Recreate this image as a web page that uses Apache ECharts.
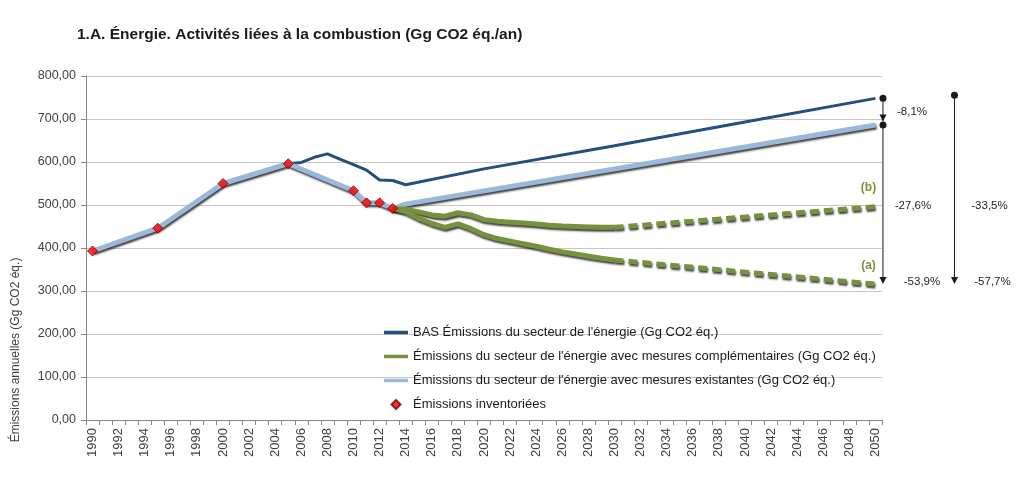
<!DOCTYPE html>
<html>
<head>
<meta charset="utf-8">
<script src="https://cdn.jsdelivr.net/npm/echarts@6/dist/echarts.min.js"></script>
<style>
  html, body { margin: 0; padding: 0; background: #ffffff; }
  #chart { width: 1016px; height: 478px; }
</style>
</head>
<body>
<div id="chart"></div>
<script>
// Years on the category axis
const firstYear = 1990;
const lastYear = 2050;
const years = [];
for (let y = firstYear; y <= lastYear; y++) years.push(String(y));

// Inventoried emissions (Gg CO2 eq.)
const inventoryYears = [1990, 1995, 2000, 2005, 2010, 2011, 2012, 2013];
const inventoryValues = [393, 446, 550, 596, 533, 505, 505, 492];

// BAS scenario
const basYears = [1990, 1995, 2000, 2005, 2006, 2007, 2008, 2009, 2010, 2011, 2012, 2013, 2014, 2020, 2030, 2040, 2050];
const basValues = [393, 446, 550, 596, 599, 611, 619, 606, 594, 581, 558, 557, 547, 584, 638, 693, 748];

// Existing measures
const existingYears = [1990, 1995, 2000, 2005, 2010, 2011, 2012, 2013, 2014, 2050];
const existingValues = [393, 446, 550, 596, 533, 505, 505, 492, 502, 686];

// Complementary measures, variant (a) and (b), modelled up to 2030
const complementaryYears = [2013, 2014, 2015, 2016, 2017, 2018, 2019, 2020, 2021, 2022, 2023, 2024, 2025, 2026, 2027, 2028, 2029, 2030];
const complementaryA = [492, 484, 469, 457, 448, 456, 445, 431, 422, 416, 410, 404, 397, 391, 386, 381, 376, 372];
const complementaryB = [492, 490, 484, 477, 474, 482, 477, 466, 462, 460, 458, 456, 453, 451, 450, 449, 448, 448];

// Complementary measures, trend 2030-2050
const trendYears = [2030, 2050];
const trendA = [372, 316];
const trendB = [448, 496];

// Percentage labels drawn at the right margin
const gapLabels = ['-8,1%', '-27,6%', '-33,5%', '-53,9%', '-57,7%'];

const NAME_BAS = "BAS Émissions du secteur de l'énergie (Gg CO2 éq.)";
const NAME_COMP = "Émissions du secteur de l'énergie avec mesures complémentaires (Gg CO2 éq.)";
const NAME_EXIST = "Émissions du secteur de l'énergie avec mesures existantes (Gg CO2 éq.)";
const NAME_INV = "Émissions inventoriées";

const FONT = "'Liberation Sans', Arial, sans-serif";
const GREEN = '#76923C';
const LIGHT = '#9BB7D9';
const DARK = '#23507F';

// Legend icons: a flat bar for lines, a diamond for the inventory points
const ICON_LINE = 'path://M0,0 L48,0 L48,7 L0,7 Z';
const ICON_DIAMOND = 'path://M5,0 L10,5 L5,10 L0,5 Z';

function toSeries(ys, vs) {
  const out = years.map(() => null);
  ys.forEach((y, i) => { out[y - firstYear] = vs[i]; });
  return out;
}

const shadow = { shadowColor: 'rgba(0,0,0,0.75)', shadowBlur: 2, shadowOffsetX: 1, shadowOffsetY: 2 };

const chart = echarts.init(document.getElementById('chart'), null, { renderer: 'canvas' });

chart.setOption({
  animation: false,
  backgroundColor: '#ffffff',
  title: {
    text: '1.A. Énergie. Activités liées à la combustion (Gg CO2 éq./an)',
    left: 77, top: 27, padding: 0,
    textStyle: { fontFamily: FONT, fontSize: 15.5, fontWeight: 'bold', color: '#1a1a1a' }
  },
  grid: { left: 86, right: 134, top: 76, bottom: 58 },
  legend: {
    orient: 'vertical', left: 384, top: 326, padding: 0,
    itemWidth: 24, itemHeight: 9, itemGap: 11,
    selectedMode: false, symbolKeepAspect: true,
    data: [
      { name: NAME_BAS, icon: ICON_LINE },
      { name: NAME_COMP, icon: ICON_LINE },
      { name: NAME_EXIST, icon: ICON_LINE },
      { name: NAME_INV, icon: ICON_DIAMOND }
    ],
    textStyle: { fontFamily: FONT, fontSize: 13, color: '#1a1a1a' }
  },
  xAxis: {
    type: 'category', data: years, boundaryGap: true,
    axisLine: { lineStyle: { color: '#868686' } },
    axisTick: { show: true, interval: 0, length: 5, alignWithLabel: false, lineStyle: { color: '#868686' } },
    axisLabel: { interval: 1, rotate: 90, margin: 8, fontFamily: FONT, fontSize: 13, color: '#404040' },
    splitLine: { show: false }
  },
  yAxis: {
    type: 'value', min: 0, max: 800, interval: 100,
    axisLine: { show: true, lineStyle: { color: '#868686' } },
    axisTick: { show: true, length: 5, lineStyle: { color: '#868686' } },
    axisLabel: {
      margin: 10, fontFamily: FONT, fontSize: 12.5, color: '#404040',
      formatter: v => v.toFixed(2).replace('.', ',')
    },
    splitLine: { lineStyle: { color: '#c6c6c6', width: 1 } }
  },
  series: [
    {
      name: NAME_BAS, type: 'line', data: toSeries(basYears, basValues), connectNulls: true,
      symbol: 'none', z: 2,
      lineStyle: { color: DARK, width: 3 }, itemStyle: { color: DARK }
    },
    {
      name: NAME_EXIST, type: 'line', data: toSeries(existingYears, existingValues), connectNulls: true,
      symbol: 'none', z: 3,
      lineStyle: Object.assign({ color: LIGHT, width: 5 }, shadow), itemStyle: { color: LIGHT }
    },
    {
      name: NAME_COMP, type: 'line', data: toSeries(complementaryYears, complementaryB),
      symbol: 'none', z: 4,
      lineStyle: Object.assign({ color: GREEN, width: 5 }, shadow), itemStyle: { color: GREEN }
    },
    {
      name: NAME_COMP, type: 'line', data: toSeries(complementaryYears, complementaryA),
      symbol: 'none', z: 4,
      lineStyle: Object.assign({ color: GREEN, width: 5 }, shadow), itemStyle: { color: GREEN }
    },
    {
      name: NAME_COMP, type: 'line', data: toSeries(trendYears, trendB), connectNulls: true,
      symbol: 'none', z: 4,
      lineStyle: Object.assign({ color: GREEN, width: 5, type: [9, 5] }, shadow), itemStyle: { color: GREEN }
    },
    {
      name: NAME_COMP, type: 'line', data: toSeries(trendYears, trendA), connectNulls: true,
      symbol: 'none', z: 4,
      lineStyle: Object.assign({ color: GREEN, width: 5, type: [9, 5] }, shadow), itemStyle: { color: GREEN }
    },
    {
      name: NAME_INV, type: 'scatter', data: toSeries(inventoryYears, inventoryValues),
      symbol: 'diamond', symbolSize: 10, z: 6,
      itemStyle: { color: '#FF0000', borderColor: '#7a0000', borderWidth: 1 }
    }
  ]
});

// Gap annotations at the right margin, placed from the 2050 values
const px = (cat, val) => chart.convertToPixel({ xAxisIndex: 0, yAxisIndex: 0 }, [cat, val]);
const endBas = px(String(lastYear), basValues[basValues.length - 1]);
const endExist = px(String(lastYear), existingValues[existingValues.length - 1]);
const endA = px(String(lastYear), trendA[trendA.length - 1]);
const endB = px(String(lastYear), trendB[trendB.length - 1]);

const x1 = endBas[0] + 7.5;
const x2 = endBas[0] + 79;
const ink = '#1a1a1a';

function dot(x, y) {
  return { type: 'circle', shape: { cx: x, cy: y, r: 3.5 }, style: { fill: ink }, z: 10 };
}
function vline(x, ya, yb) {
  return { type: 'line', shape: { x1: x, y1: ya, x2: x, y2: yb }, style: { stroke: ink, lineWidth: 1 }, z: 10 };
}
function arrowDown(x, tipY) {
  return { type: 'polygon', shape: { points: [[x - 3.5, tipY - 7], [x + 3.5, tipY - 7], [x, tipY]] }, style: { fill: ink }, z: 10 };
}
function label(text, x, y) {
  return {
    type: 'text', x: x, y: y, z: 10,
    style: { text: text, fill: '#1f1f1f', font: '11.5px ' + FONT, align: 'center', verticalAlign: 'middle' }
  };
}
function variantLabel(text, x, y) {
  return {
    type: 'text', x: x, y: y, z: 10,
    style: { text: text, fill: GREEN, font: 'bold 12px ' + FONT, align: 'center', verticalAlign: 'middle' }
  };
}

chart.setOption({
  graphic: [
    {
      type: 'text', x: 16, y: 350, rotation: Math.PI / 2,
      style: {
        text: 'Émissions annuelles (Gg CO2 éq.)', fill: '#404040',
        font: '12px ' + FONT, align: 'center', verticalAlign: 'middle'
      }
    },
    variantLabel('(b)', endB[0] - 7, endB[1] - 19),
    variantLabel('(a)', endA[0] - 7, endA[1] - 18),
    // BAS -> existing measures
    vline(x1, endBas[1], endExist[1] - 4),
    arrowDown(x1, endExist[1] - 3.5),
    dot(x1, endBas[1]),
    // existing measures -> (a)
    vline(x1, endExist[1], endA[1] - 2),
    arrowDown(x1, endA[1]),
    dot(x1, endExist[1]),
    // BAS -> (a)
    vline(x2, endBas[1] - 3, endA[1] - 2),
    arrowDown(x2, endA[1]),
    dot(x2, endBas[1] - 3),
    label(gapLabels[0], x1 + 29, (endBas[1] + endExist[1]) / 2),
    label(gapLabels[1], x1 + 30, endB[1] - 1),
    label(gapLabels[2], x2 + 35, endB[1] - 1),
    label(gapLabels[3], x1 + 39, endA[1] - 2),
    label(gapLabels[4], x2 + 38, endA[1] - 2)
  ]
});
</script>
</body>
</html>
